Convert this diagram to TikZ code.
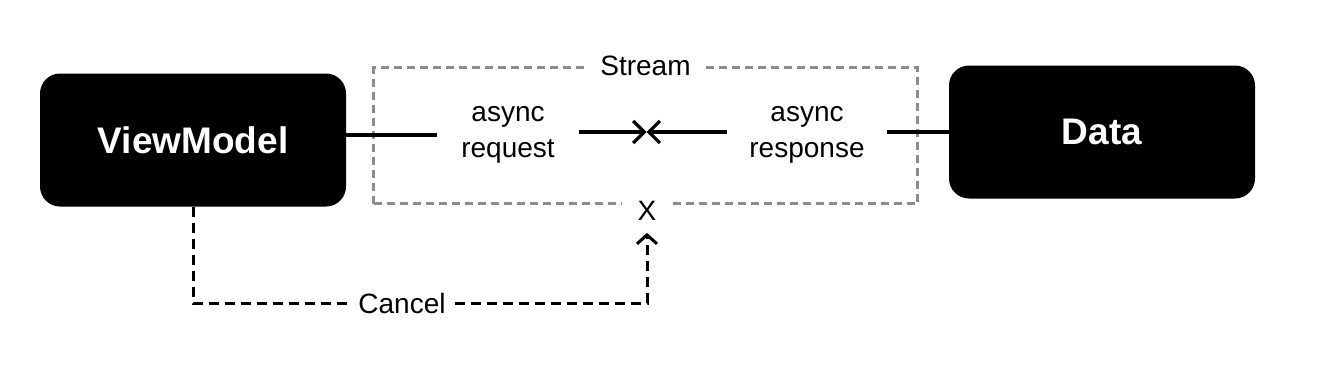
\documentclass[tikz,border=0pt]{standalone}
\usepackage{fontspec}
\setmainfont{Liberation Sans}
\usepackage{xcolor}
\definecolor{streamgray}{RGB}{140,140,140}
\usetikzlibrary{arrows.meta,positioning}
\begin{document}
\begin{tikzpicture}[x=1pt,y=-1pt,
  layer/.style={rectangle,rounded corners=20pt,fill=black,text=white,
    minimum width=306pt,minimum height=133pt,
    font=\fontsize{37}{42}\selectfont\bfseries},
  caption/.style={align=center,font=\fontsize{28}{36}\selectfont},
  link/.style={line width=3.2pt},
  flow/.style={-{Straight Barb[length=11pt,width=22pt,line width=3.2pt]},line width=3.2pt},
  cancelline/.style={line width=3pt,dash pattern=on 10pt off 6pt}
]
  \useasboundingbox (0,0) rectangle (1322,380);
  \node[layer] (vm) at (193,140) {ViewModel};
  \node[layer] (data) at (1102,132) {Data};
  \node[rectangle,draw=streamgray,line width=2.5pt,dash pattern=on 8pt off 5pt,
    minimum width=544pt,minimum height=136pt] (stream) at (645.5,135.5) {};
  \node[caption,fill=white,inner xsep=14pt,inner ysep=0pt] (streamlbl)
    at (stream.north) {Stream};
  \node[caption,inner xsep=24pt] (req) at (508,135) {async\\request};
  \node[caption,inner xsep=22pt] (resp) at (807,135) {async\\response};
  \coordinate (meet) at (646.5,132);
  \node[caption,fill=white,inner xsep=16pt,inner ysep=2pt] (stop) at (647,211) {X};
  \node[caption,inner xsep=9pt] (cancel) at (402,303) {Cancel};
  \draw[link] (vm.east |- req.west) -- (req.west);
  \draw[link] (resp.east |- data.west) -- (data.west);
  \draw[flow] (req.east |- meet) -- (meet);
  \draw[flow] (resp.west |- meet) -- (meet);
  \draw[cancelline] (vm.south) -- (vm.south |- cancel) -- (cancel.west);
  \draw[cancelline,-{Straight Barb[length=9pt,width=20pt,line width=3pt]}]
    (cancel.east) -| ([yshift=-10pt]stop.south);
\end{tikzpicture}
\end{document}
